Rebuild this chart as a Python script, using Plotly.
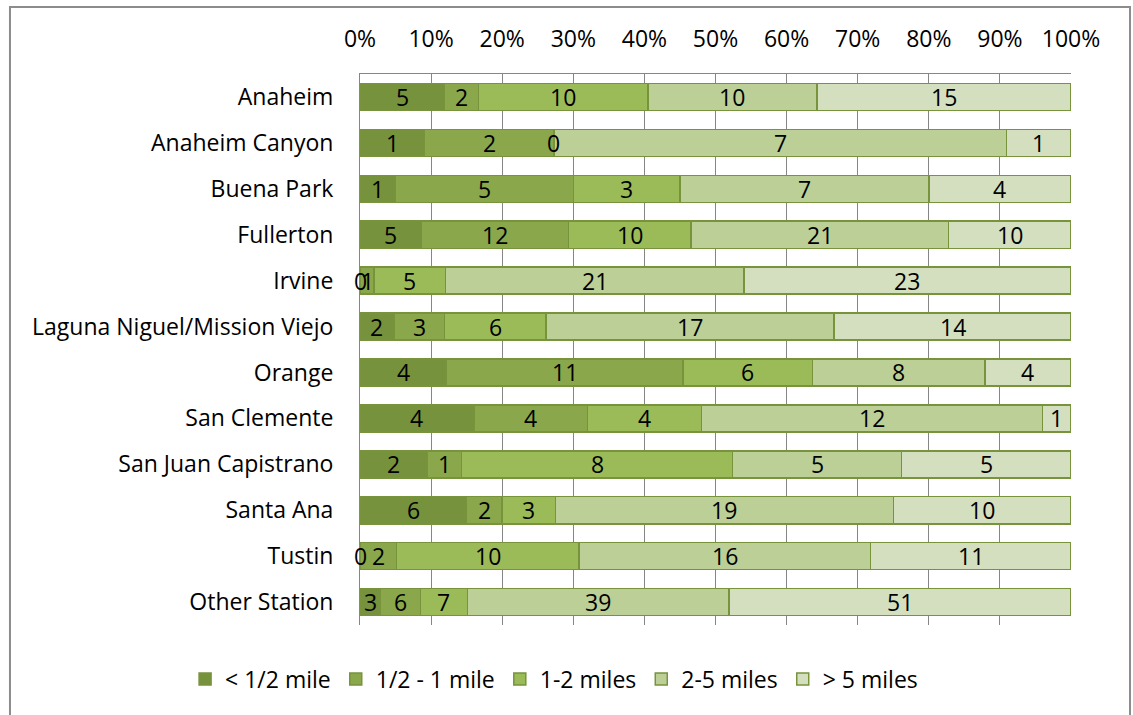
import plotly.graph_objects as go

# Stations (top to bottom) and trip-distance counts per band
stations = ["Anaheim", "Anaheim Canyon", "Buena Park", "Fullerton", "Irvine",
            "Laguna Niguel/Mission Viejo", "Orange", "San Clemente",
            "San Juan Capistrano", "Santa Ana", "Tustin", "Other Station"]
bands = ["< 1/2 mile", "1/2 - 1 mile", "1-2 miles", "2-5 miles", "> 5 miles"]

under_half = [5, 1, 1, 5, 0, 2, 4, 4, 2, 6, 0, 3]
half_to_one = [2, 2, 5, 12, 1, 3, 11, 4, 1, 2, 2, 6]
one_to_two = [10, 0, 3, 10, 5, 6, 6, 4, 8, 3, 10, 7]
two_to_five = [10, 7, 7, 21, 21, 17, 8, 12, 5, 19, 16, 39]
over_five = [15, 1, 4, 10, 23, 14, 4, 1, 5, 10, 11, 51]

series = [under_half, half_to_one, one_to_two, two_to_five, over_five]
colors = ["#76923C", "#8AA74B", "#9BBB59", "#BBCF97", "#D3DFBF"]
edge = "#77933C"
font_family = "'Open Sans', Lato, sans-serif"
fs = 23

totals = [sum(s[i] for s in series) for i in range(len(stations))]
shares = [[100.0 * s[i] / totals[i] for i in range(len(stations))] for s in series]

fig = go.Figure()
for name, vals, col in zip(bands, shares, colors):
    fig.add_trace(go.Bar(
        y=stations, x=vals, orientation="h", name=name,
        marker=dict(color=col, line=dict(color=edge, width=1.5)),
        hoverinfo="skip",
    ))

# Count labels centred on each segment
annotations = []
for i, st in enumerate(stations):
    left = 0.0
    for k in range(len(series)):
        w = shares[k][i]
        annotations.append(dict(
            x=left + w / 2, y=st, xref="x", yref="y", text=str(series[k][i]),
            showarrow=False, font=dict(size=fs, color="#000000", family=font_family),
            xanchor="center", yanchor="middle",
        ))
        left += w

fig.update_layout(
    width=1133, height=715,
    barmode="stack", bargap=0.41,
    plot_bgcolor="white", paper_bgcolor="white",
    margin=dict(l=360, r=62, t=74, b=90, autoexpand=False),
    font=dict(family=font_family, size=fs, color="#000000"),
    annotations=annotations,
    showlegend=True,
    legend=dict(orientation="h", x=-0.246, xanchor="left", y=-0.098, yanchor="middle",
                traceorder="normal", font=dict(size=fs), itemwidth=30,
                bgcolor="rgba(0,0,0,0)"),
    shapes=[dict(type="rect", xref="paper", yref="paper",
                 x0=-0.4923, x1=1.0830, y0=-0.18, y1=1.1216,
                 line=dict(color="#8C8C8C", width=2), layer="below")],
)
fig.update_xaxes(
    side="top", range=[0, 100], tick0=0, dtick=10, ticksuffix="%",
    showgrid=True, gridcolor="#868686", gridwidth=1,
    showline=True, linecolor="#868686", linewidth=1,
    ticks="", ticklabelstandoff=17, zeroline=False,
    tickfont=dict(size=fs),
)
fig.update_yaxes(
    autorange="reversed", showline=True, linecolor="#868686", linewidth=1,
    ticks="", ticklabelstandoff=21, showgrid=False,
    tickfont=dict(size=fs),
)

fig.write_html("out.html")
